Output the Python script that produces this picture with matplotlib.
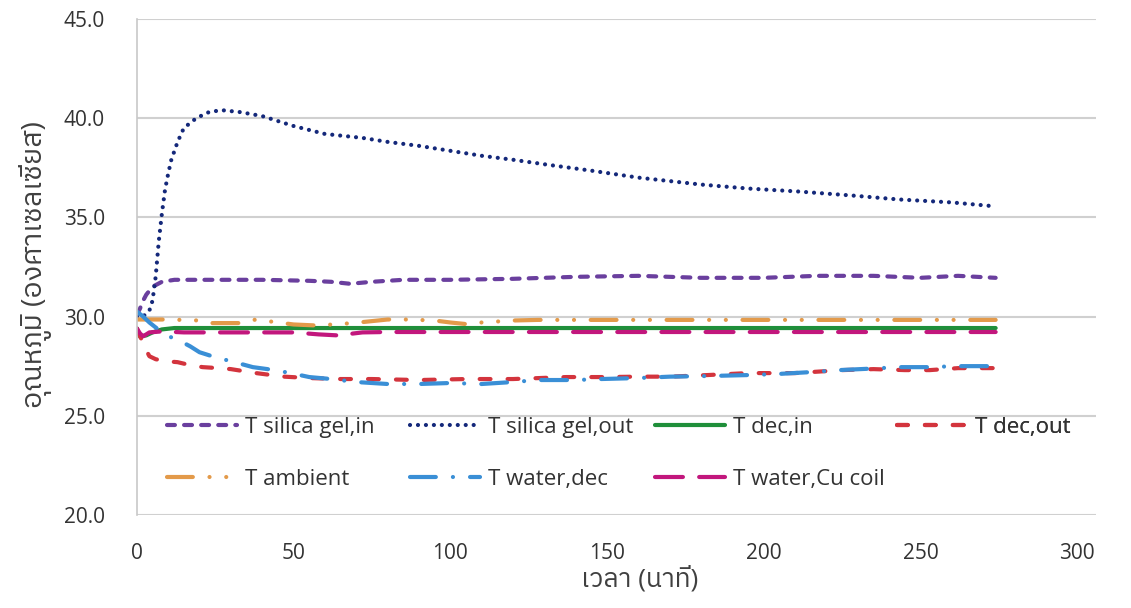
import matplotlib
matplotlib.use('Agg')
import matplotlib.pyplot as plt
from matplotlib import font_manager
from matplotlib.ft2font import FT2Font

# Data (time in minutes, temperature in deg C)
t_si_in = [0, 1, 2, 3, 5, 8, 12, 20, 40, 55, 62, 68, 75, 85, 100, 120, 140, 160, 180,
           200, 217, 235, 250, 262, 274]
T_si_in = [30.1, 30.4, 30.8, 31.1, 31.5, 31.75, 31.85, 31.85, 31.85, 31.8, 31.75, 31.65, 31.75,
           31.85, 31.85, 31.9, 32.0, 32.05, 31.95, 31.95, 32.05, 32.05, 31.95, 32.05, 31.95]

t_si_out = [0, 2, 4, 5, 6, 7, 8, 9, 10, 11, 13, 15, 19, 23, 27, 33, 40, 50, 60, 72, 80, 90,
            100, 110, 120, 131, 145, 160, 180, 195, 211, 228, 243, 260, 274]
T_si_out = [30.0, 30.0, 30.3, 30.8, 32.0, 33.8, 35.2, 36.4, 37.2, 37.9, 38.8, 39.5, 40.0, 40.3,
            40.4, 40.3, 40.1, 39.6, 39.2, 39.0, 38.8, 38.6, 38.35, 38.1, 37.9, 37.65, 37.35,
            37.0, 36.65, 36.45, 36.3, 36.1, 35.9, 35.75, 35.55]

t_dec_in = [0, 1, 3, 5, 8, 12, 274]
T_dec_in = [29.4, 29.0, 29.05, 29.2, 29.35, 29.42, 29.42]

t_dec_out = [0, 1, 2, 3, 4, 6, 9, 13, 17, 21, 26, 30, 38, 47, 55, 65, 75, 90, 105, 120, 137,
             150, 160, 170, 182, 195, 210, 225, 235, 245, 253, 262, 274]
T_dec_out = [29.4, 29.0, 28.7, 28.3, 28.0, 27.85, 27.75, 27.7, 27.55, 27.45, 27.4, 27.35, 27.15,
             26.97, 26.9, 26.85, 26.85, 26.8, 26.85, 26.85, 26.95, 26.95, 26.97, 26.97, 27.05,
             27.15, 27.15, 27.3, 27.35, 27.3, 27.3, 27.4, 27.4]

t_amb = [0, 5, 10, 20, 24, 33, 38, 45, 50, 57, 65, 72, 80, 86, 95, 100, 105, 110, 120, 128, 274]
T_amb = [29.85, 29.85, 29.85, 29.8, 29.67, 29.67, 29.85, 29.7, 29.6, 29.55, 29.62, 29.72, 29.85,
         29.85, 29.8, 29.7, 29.62, 29.7, 29.8, 29.83, 29.83]

t_w_dec = [0, 2, 4, 6, 8, 11, 14, 17, 20, 25, 30, 37, 44, 49, 55, 62, 70, 80, 90, 100, 110, 120,
           128, 140, 148, 160, 170, 182, 195, 204, 215, 224, 235, 243, 252, 262, 274]
T_w_dec = [30.25, 30.0, 29.7, 29.45, 29.2, 28.95, 28.75, 28.5, 28.2, 27.95, 27.75, 27.45, 27.3,
           27.15, 26.95, 26.85, 26.7, 26.6, 26.6, 26.65, 26.6, 26.7, 26.8, 26.8, 26.85, 26.9,
           26.97, 27.0, 27.05, 27.1, 27.2, 27.3, 27.38, 27.45, 27.45, 27.5, 27.5]

t_w_cu = [0, 1, 2, 4, 8, 15, 30, 50, 58, 64, 72, 80, 274]
T_w_cu = [29.4, 29.15, 29.0, 29.2, 29.25, 29.2, 29.2, 29.2, 29.1, 29.05, 29.2, 29.22, 29.22]

x_ticks = [0, 50, 100, 150, 200, 250, 300]
y_ticks = [20, 25, 30, 35, 40, 45]


# find a font that has Thai glyphs
def find_thai_font():
    names = []
    for f in font_manager.fontManager.ttflist:
        try:
            cmap = FT2Font(f.fname).get_charmap()
        except Exception:
            continue
        if ord('ว') in cmap and ord('ภ') in cmap:
            names.append(f.name)
    if not names:
        return None
    names.sort(key=lambda n: ('Sans' not in n, 'Thai' not in n, n))
    return names[0]


thai = find_thai_font()
families = ['Open Sans']
if thai:
    families.append(thai)
families.append('DejaVu Sans')
plt.rcParams['font.family'] = families

fig = plt.figure(figsize=(11.31, 6.08), dpi=100, facecolor='white')
ax = fig.add_axes([0.121, 0.153, 0.848, 0.816])

lw = 3.0
series = [
    (t_si_in, T_si_in, 'T silica gel,in', '#6a3f9e', (0, (1.9, 2.2))),
    (t_si_out, T_si_out, 'T silica gel,out', '#14287a', (0, (0.01, 1.9))),
    (t_dec_in, T_dec_in, 'T dec,in', '#1f8f3a', '-'),
    (t_dec_out, T_dec_out, 'T dec,out', '#d3343d', (0, (2.6, 4.1))),
    (t_amb, T_amb, 'T ambient', '#e39a4a', (0, (6.2, 4.0, 0.01, 4.0, 0.01, 4.0))),
    (t_w_dec, T_w_dec, 'T water,dec', '#3a8fd6', (0, (6.2, 4.1, 0.01, 4.1))),
    (t_w_cu, T_w_cu, 'T water,Cu coil', '#c2177d', (0, (6.7, 3.9))),
]
handles = {}
for t, T, label, color, ls in series:
    line, = ax.plot(t, T, color=color, lw=lw, linestyle=ls, label=label,
                    dash_capstyle='round', solid_capstyle='round')
    handles[label] = line

ax.set_xlim(0, 306)
ax.set_ylim(20, 45)
ax.set_xticks(x_ticks)
ax.set_yticks(y_ticks)
ax.set_yticklabels(['%.1f' % v for v in y_ticks])
ax.tick_params(axis='both', length=0, labelsize=15, colors='#333333')
ax.tick_params(axis='y', pad=23)
ax.tick_params(axis='x', pad=20)
ax.grid(axis='y', color='#d0d0d0', lw=1.5)
ax.set_axisbelow(True)
for s in ['top', 'right', 'bottom']:
    ax.spines[s].set_visible(False)
ax.spines['left'].set_color('#c8c8c8')
ax.spines['left'].set_linewidth(1.2)

ax.set_xlabel('เวลา (นาที)', fontsize=19, color='#404040')
ax.set_ylabel('อุณหภูมิ (องศาเซลเซียส)', fontsize=20.5, color='#404040')
ax.xaxis.set_label_coords(0.524, -0.1035)
ax.yaxis.set_label_coords(-0.0886, 0.505)

# legend laid out like Excel: 4 equal columns, 2 rows
columns = [
    (0.031, ['T silica gel,in', 'T ambient']),
    (0.285, ['T silica gel,out', 'T water,dec']),
    (0.540, ['T dec,in', 'T water,Cu coil']),
    (0.7925, ['T dec,out']),
]
for x0, labels in columns:
    leg = ax.legend([handles[l] for l in labels], labels, loc='upper left',
                    bbox_to_anchor=(x0, 0.198), frameon=False, fontsize=16,
                    borderpad=0, borderaxespad=0, handlelength=3.15,
                    handletextpad=0.36, labelspacing=1.4, labelcolor='#333333')
    ax.add_artist(leg)

plt.savefig('out.png', dpi=100, facecolor='white')
plt.close()
